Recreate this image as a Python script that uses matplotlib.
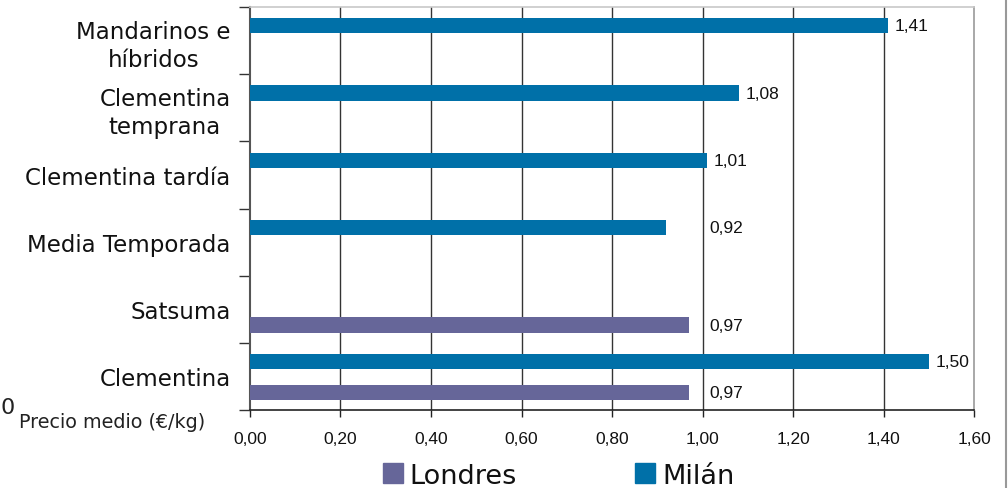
import numpy as np
import matplotlib
matplotlib.use("Agg")
import matplotlib.pyplot as plt
from matplotlib.patches import Patch
from matplotlib.lines import Line2D

# categories listed bottom to top
categories = ["Clementina", "Satsuma", "Media Temporada", "Clementina tardía",
              "Clementina\ntemprana", "Mandarinos e\nhíbridos"]
londres = [0.97, 0.97, np.nan, np.nan, np.nan, np.nan]
milan = [1.50, np.nan, 0.92, 1.01, 1.08, 1.41]
xticks = [0.0, 0.2, 0.4, 0.6, 0.8, 1.0, 1.2, 1.4, 1.6]

c_londres = "#666699"
c_milan = "#0070a8"

fig = plt.figure(figsize=(10.08, 4.89), dpi=100)
ax = fig.add_axes([0.248, 0.1595, 0.7183, 0.824])

y = np.arange(len(categories))
h = 0.225
ax.barh(y + 0.22, milan, height=h, color=c_milan, zorder=3)
ax.barh(y - 0.235, londres, height=h, color=c_londres, zorder=3)

def fmt(v):
    return f"{v:.2f}".replace(".", ",")

for yy, v in zip(y + 0.22, milan):
    if not np.isnan(v):
        ax.annotate(fmt(v), (max(v, 1.0), yy), xytext=(5, 0), textcoords="offset points",
                    va="center", ha="left", fontsize=12.5, family="Liberation Sans", color="#111111")
for yy, v in zip(y - 0.235, londres):
    if not np.isnan(v):
        ax.annotate(fmt(v), (max(v, 1.0), yy), xytext=(5, 0), textcoords="offset points",
                    va="center", ha="left", fontsize=12.5, family="Liberation Sans", color="#111111")

ax.set_xlim(0, 1.6)
ax.set_ylim(-0.5, len(categories) - 0.5)
ax.set_xticks(xticks)
ax.set_xticklabels([fmt(t) for t in xticks], fontsize=12.5, family="Liberation Sans", color="#111111")
ax.tick_params(axis="x", direction="out", length=5, width=1, color="#222222", pad=10)

ax.set_yticks(y)
ax.set_yticklabels(categories, fontsize=16.5, color="#111111", ma="center", linespacing=1.25)
ax.tick_params(axis="y", which="major", length=0, pad=14)
ax.set_yticks(np.arange(-0.5, len(categories), 1.0), minor=True)
ax.tick_params(axis="y", which="minor", direction="out", length=8, width=1, color="#333333")

for t in xticks[1:-1]:
    ax.axvline(t, color="#333333", lw=1, zorder=1)

ax.spines["left"].set_color("#555555")
ax.spines["left"].set_linewidth(1.5)
ax.spines["bottom"].set_color("#222222")
ax.spines["bottom"].set_linewidth(1.2)
ax.spines["top"].set_color("#c8c8c8")
ax.spines["top"].set_linewidth(1.2)
ax.spines["right"].set_color("#999999")
ax.spines["right"].set_linewidth(1.2)

fig.text(0.019, 0.136, "Precio medio (€/kg)", fontsize=13.8, color="#222222", va="center")
fig.text(0.0005, 0.165, "0", fontsize=16, color="#222222", va="center")

# frame line down the right edge
fig.add_artist(Line2D([0.9977, 0.9977], [0, 1], transform=fig.transFigure, color="#999999", lw=1.5))

handles = [Patch(color=c_londres, label="Londres"), Patch(color=c_milan, label="Milán")]
fig.legend(handles=handles, loc="center", bbox_to_anchor=(0.554, 0.025), ncol=2, frameon=False,
           fontsize=19.5, handlelength=0.75, handleheight=0.75, handletextpad=0.25, columnspacing=4.35,
           labelcolor="#111111")

fig.savefig("out.png", dpi=100, facecolor="white")
